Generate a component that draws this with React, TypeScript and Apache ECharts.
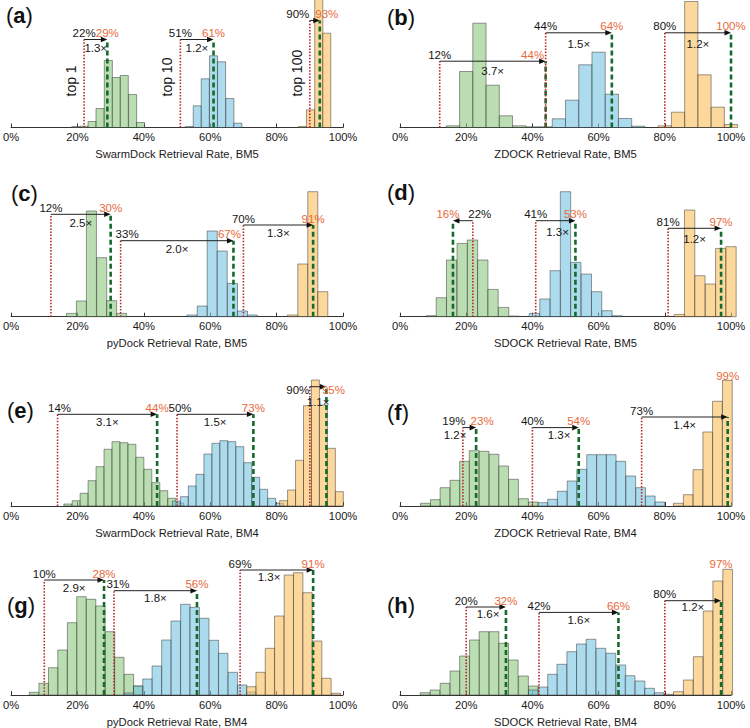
import React, { useEffect, useRef } from 'react';
import * as echarts from 'echarts';

const FONT = '"Liberation Sans", Arial, Helvetica, sans-serif';

const PANEL_LETTERS = ['a', 'b', 'c', 'd', 'e', 'f', 'g', 'h'];
const AXIS_TITLES = [
  'SwarmDock Retrieval Rate, BM5',
  'ZDOCK Retrieval Rate, BM5',
  'pyDock Retrieval Rate, BM5',
  'SDOCK Retrieval Rate, BM5',
  'SwarmDock Retrieval Rate, BM4',
  'ZDOCK Retrieval Rate, BM4',
  'pyDock Retrieval Rate, BM4',
  'SDOCK Retrieval Rate, BM4',
];
const TOP_LABELS = ['top 1', 'top 10', 'top 100'];
// histogram bin width (retrieval rate, %) per panel
const BIN_WIDTHS = [2.44, 4, 3.03, 3.125, 2.4, 2.95, 2.85, 2.95];

// histograms: [retrieval rate %, frequency]
const swarmdockBM5Top1 = [[19.5, 1], [22.0, 1.3], [24.4, 6], [26.8, 19], [29.3, 67], [31.7, 50], [34.1, 52], [36.6, 33], [39.0, 5]];
const swarmdockBM5Top10 = [[53.7, 1], [56.1, 21.7], [58.5, 48.7], [61.0, 71.7], [63.4, 65.7], [65.9, 29], [68.3, 4.3]];
const swarmdockBM5Top100 = [[87.8, 1], [90.2, 17.7], [92.7, 130], [95.1, 94.3]];

const zdockBM5Top1 = [[16, 1.7], [20, 56], [24, 104.3], [28, 42.3], [32, 11.7], [36, 1.7], [40, 0.7]];
const zdockBM5Top10 = [[44, 0.7], [48, 8.7], [52, 27.3], [56, 62.7], [60, 75.3], [64, 33.3], [68, 9], [72, 1.3]];
const zdockBM5Top100 = [[80, 1.7], [84, 15.3], [88, 126], [92, 52.7], [96, 20.3], [100, 3]];

const pydockBM5Top1 = [[18.2, 3.3], [21.2, 15.7], [24.2, 105.7], [27.3, 59], [30.3, 16], [33.3, 3.3]];
const pydockBM5Top10 = [[54.5, 1.7], [57.6, 10.7], [60.6, 85.7], [63.6, 65.7], [66.7, 33.3], [69.7, 5.7], [72.7, 1.7]];
const pydockBM5Top100 = [[84.8, 1.7], [87.9, 52.7], [90.9, 125], [93.9, 25]];

const sdockBM5Top1 = [[9.4, 1], [12.5, 19], [15.6, 56.7], [18.8, 73.3], [21.9, 76.7], [25.0, 56.7], [28.1, 27.3], [31.3, 9.3], [34.4, 0.7]];
const sdockBM5Top10 = [[40.6, 3.3], [43.8, 17.7], [46.9, 46], [50.0, 125], [53.1, 54.3], [56.3, 42.7], [59.4, 25], [62.5, 6], [65.6, 1]];
const sdockBM5Top100 = [[84.4, 2.3], [87.5, 106.7], [90.6, 41], [93.8, 32.7], [96.9, 68.3], [100, 70]];

const swarmdockBM4Top1 = [[17.1, 2], [19.6, 5.3], [22.0, 12.7], [24.4, 25.3], [26.8, 39.3], [29.2, 56.7], [31.6, 64.3], [34.0, 63.3], [36.4, 61.7], [38.8, 48.7], [41.2, 36.7], [43.6, 23.3], [46.0, 15.3], [48.4, 7.7], [50.8, 3]];
const swarmdockBM4Top10 = [[49.8, 5], [52.2, 9.3], [54.6, 20], [56.9, 31.7], [59.3, 52], [61.7, 62.7], [64.1, 65.3], [66.5, 64.3], [68.9, 59.3], [71.3, 43.3], [73.7, 28.7], [76.1, 16.7], [78.5, 7.7], [80.9, 2.7]];
const swarmdockBM4Top100 = [[82.1, 5.3], [84.5, 16], [86.9, 45.7], [89.3, 100.3], [91.7, 126], [94.1, 101], [96.5, 57.7], [98.9, 14.3]];

const zdockBM4Top1 = [[7.7, 2.7], [10.7, 6.3], [13.6, 18.3], [16.6, 25.7], [19.5, 44.7], [22.4, 55.3], [25.4, 54.7], [28.4, 51.7], [31.3, 40], [34.3, 26.7], [37.3, 7.3], [40.3, 4]];
const zdockBM4Top10 = [[43.2, 3.3], [46.1, 6.7], [49.0, 14.7], [52.0, 25], [54.9, 36.7], [57.9, 51.3], [60.9, 51.3], [63.8, 51.3], [66.7, 44.7], [69.7, 30], [72.7, 18.3], [75.6, 10], [78.5, 4]];
const zdockBM4Top100 = [[84.1, 2.7], [87.1, 11.3], [90.0, 36.3], [93.0, 74], [95.9, 104.7], [98.9, 125.7]];

const pydockBM4Top1 = [[6.9, 2.7], [9.8, 11.7], [12.7, 27.3], [15.5, 45], [18.4, 72.3], [21.2, 98.3], [24.1, 95.7], [26.9, 89], [29.8, 63.3], [32.6, 37.7], [35.5, 20.7], [38.3, 9]];
const pydockBM4Top10 = [[35.5, 2], [38.3, 9], [41.1, 16], [43.9, 29], [46.8, 55], [49.6, 74], [52.5, 90.7], [55.3, 87.7], [58.2, 76.7], [61.1, 54.7], [63.9, 41.7], [66.8, 22.7], [69.6, 10], [72.4, 3]];
const pydockBM4Top100 = [[72.4, 8.3], [75.2, 22.7], [78.0, 46.7], [80.8, 79], [83.7, 120], [86.5, 122.3], [89.3, 102.3], [92.2, 54], [95.0, 16.7], [97.9, 1.7]];

const sdockBM4Top1 = [[7.6, 2.3], [10.6, 5], [13.6, 11.7], [16.6, 24], [19.5, 39], [22.5, 55], [25.4, 63.3], [28.4, 63.3], [31.3, 51.7], [34.2, 35], [37.3, 19], [40.3, 9]];
const sdockBM4Top10 = [[40.3, 5], [43.2, 8], [46.1, 20.7], [48.9, 30.7], [51.9, 43.3], [54.8, 51], [57.7, 55.7], [60.7, 46.7], [63.7, 41.7], [66.7, 30], [69.5, 19.3], [72.5, 14], [75.4, 6.7], [78.3, 2.3]];
const sdockBM4Top100 = [[81.2, 0.7], [84.1, 3.3], [87.1, 15], [90.1, 38.3], [93.1, 84], [96.0, 114], [99.0, 125.7]];

// annotated shifts: [baseline %, improved %, fold change]
const swarmdockBM5Arrows = [[22, 29, '1.3×'], [51, 61, '1.2×'], [90, 93, '']];
const zdockBM5Arrows = [[12, 44, '3.7×'], [44, 64, '1.5×'], [80, 100, '1.2×']];
const pydockBM5Arrows = [[12, 30, '2.5×'], [33, 67, '2.0×'], [70, 91, '1.3×']];
const sdockBM5Arrows = [[22, 16, ''], [41, 53, '1.3×'], [81, 97, '1.2×']];
const swarmdockBM4Arrows = [[14, 44, '3.1×'], [50, 73, '1.5×'], [90, 95, '1.1×']];
const zdockBM4Arrows = [[19, 23, '1.2×'], [40, 54, '1.3×'], [73, 99, '1.4×']];
const pydockBM4Arrows = [[10, 28, '2.9×'], [31, 56, '1.8×'], [69, 91, '1.3×']];
const sdockBM4Arrows = [[20, 32, '1.6×'], [42, 66, '1.6×'], [80, 97, '1.2×']];

const HISTS = [
  [swarmdockBM5Top1, swarmdockBM5Top10, swarmdockBM5Top100],
  [zdockBM5Top1, zdockBM5Top10, zdockBM5Top100],
  [pydockBM5Top1, pydockBM5Top10, pydockBM5Top100],
  [sdockBM5Top1, sdockBM5Top10, sdockBM5Top100],
  [swarmdockBM4Top1, swarmdockBM4Top10, swarmdockBM4Top100],
  [zdockBM4Top1, zdockBM4Top10, zdockBM4Top100],
  [pydockBM4Top1, pydockBM4Top10, pydockBM4Top100],
  [sdockBM4Top1, sdockBM4Top10, sdockBM4Top100],
];
const ARROWS: any[] = [
  swarmdockBM5Arrows, zdockBM5Arrows, pydockBM5Arrows, sdockBM5Arrows,
  swarmdockBM4Arrows, zdockBM4Arrows, pydockBM4Arrows, sdockBM4Arrows,
];

// ---- layout (not data) ----
const AXIS_Y = [127.5, 316.7, 506, 695];
const PLOT_H = 127;
// arrow height (in y units) and label offsets in px
const ARROW_LAYOUT: any[] = [
  [{ h: 88 }, { h: 88 }, { h: 107, fdx: -12, tdx: 7 }],
  [{ h: 66.3, tdx: -13, rdy: 9.3 }, { h: 94.7, rdy: 11 }, { h: 94.7, rdy: 11 }],
  [{ h: 102.4, rdy: 9 }, { h: 76, fdx: 6.5, tdx: -4, rdy: 8.3 }, { h: 91.7, rdy: 8.3 }],
  [{ h: 96, fdx: 7, tdx: -5 }, { h: 96, rdx: 2, rdy: 11.6 }, { h: 88.4, rdy: 11 }],
  [{ h: 91.7, fdx: 2, rdy: 7.4 }, { h: 91.7, fdx: 3, rdy: 7.4 }, { h: 119.3, fdx: -12, tdx: 7, ldy: 9.5, rdy: 15 }],
  [{ h: 78.4, fdx: -9, tdx: 6, rdx: -14.5, rdy: 7.7 }, { h: 78.4, rdx: 3.5, rdy: 7.7 }, { h: 89, tdy: -35, rdy: 7.7 }],
  [{ h: 115, rdy: 7.7 }, { h: 104.3, fdx: 4, rdy: 7 }, { h: 125, rdx: -7.6, rdy: 7.3 }],
  [{ h: 88, rdx: 2, rdy: 6.7 }, { h: 82.6, rdy: 7.7 }, { h: 94.3, tdy: -30, rdy: 6.7 }],
];
const LABEL_POS = [[6, 15], [387, 17], [11, 193], [387, 192], [7, 410], [387, 412], [7, 605], [387, 605]];

const FILLS = ['rgba(140,200,125,0.6)', 'rgba(115,195,225,0.6)', 'rgba(250,190,90,0.6)'];
const BAR_STROKE = 'rgba(55,55,55,0.5)';
const RED = '#b8262a';
const DGREEN = '#156b2c';
const ORANGE = '#e8693a';
const INK = '#151515';

function barRenderer(w: number, fill: string) {
  return (params: any, api: any) => {
    const x = api.value(0);
    const v = api.value(1);
    const a = api.coord([x - w / 2, 0]);
    const b = api.coord([x + w / 2, v]);
    return {
      type: 'rect',
      shape: { x: a[0], y: b[1], width: b[0] - a[0], height: a[1] - b[1] },
      style: { fill, stroke: BAR_STROKE, lineWidth: 1 },
    };
  };
}

function txt(x: number, y: number, text: string, fill: string, extra: any = {}) {
  return {
    type: 'text',
    x,
    y,
    ...extra,
    style: {
      text,
      fill,
      fontSize: extra.fontSize || 11.5,
      fontFamily: FONT,
      align: extra.align || 'center',
      verticalAlign: 'middle',
    },
  };
}

function annotRenderer(i: number) {
  return (params: any, api: any) => {
    const k = params.dataIndex;
    const [from, to, ratio] = ARROWS[i][k];
    const L = { fdx: 0, tdx: 0, tdy: 0, rdx: 0, rdy: 8.5, ldy: 0, ...ARROW_LAYOUT[i][k] };
    const f0 = api.coord([from, 0]);
    const f1 = api.coord([from, L.h]);
    const t0 = api.coord([to, 0]);
    const y = f1[1];
    const xf = f0[0];
    const xt = t0[0];
    const dir = xt >= xf ? 1 : -1;
    const children: any[] = [
      { type: 'line', shape: { x1: xf, y1: f0[1], x2: xf, y2: y }, style: { stroke: RED, lineWidth: 1.6, lineDash: [1.5, 1.6] } },
      { type: 'line', shape: { x1: xt, y1: t0[1], x2: xt, y2: y }, style: { stroke: DGREEN, lineWidth: 2.6, lineDash: [5, 3] } },
      { type: 'line', shape: { x1: xf, y1: y, x2: xt - dir * 5, y2: y }, style: { stroke: '#222', lineWidth: 1 } },
      { type: 'polygon', shape: { points: [[xt, y], [xt - dir * 6.5, y - 2.8], [xt - dir * 6.5, y + 2.8]] }, style: { fill: '#111' } },
      txt(xf + L.fdx, y - 6.5 + L.ldy, from + '%', INK),
      txt(xt + L.tdx, y - 6.5 + L.ldy + L.tdy, to + '%', ORANGE),
    ];
    if (ratio) children.push(txt((xf + xt) / 2 + L.rdx, y + L.rdy, ratio, INK));
    if (i === 0) {
      children.push(txt(xf - 13, f0[1] - 31, TOP_LABELS[k], INK, { rotation: Math.PI / 2, align: 'left', fontSize: 14 }));
    }
    return { type: 'group', children };
  };
}

function buildOption() {
  const grid: any[] = [];
  const xAxis: any[] = [];
  const yAxis: any[] = [];
  const series: any[] = [];
  PANEL_LETTERS.forEach((_, i) => {
    const col = i % 2;
    const row = Math.floor(i / 2);
    grid.push({ left: col ? 400 : 10, width: col ? 331 : 333, top: AXIS_Y[row] - PLOT_H, height: PLOT_H });
    xAxis.push({
      gridIndex: i,
      type: 'value',
      min: 0,
      max: 100,
      interval: 20,
      axisLine: { lineStyle: { color: '#333', width: 1 } },
      axisTick: { inside: true, length: 4, lineStyle: { color: '#333' } },
      splitLine: { show: false },
      axisLabel: { formatter: '{value}%', fontSize: 11.2, color: '#1a1a1a', fontFamily: FONT, margin: 4, showMinLabel: true, showMaxLabel: true },
      name: AXIS_TITLES[i],
      nameLocation: 'middle',
      nameGap: 21,
      nameTextStyle: { fontSize: 11.2, color: '#1a1a1a', fontFamily: FONT },
    });
    yAxis.push({ gridIndex: i, type: 'value', min: 0, max: PLOT_H, show: false });
    HISTS[i].forEach((d, c) => {
      series.push({
        type: 'custom',
        xAxisIndex: i,
        yAxisIndex: i,
        data: d,
        silent: true,
        z: 2,
        renderItem: barRenderer(BIN_WIDTHS[i], FILLS[c]),
      });
    });
    series.push({
      type: 'custom',
      xAxisIndex: i,
      yAxisIndex: i,
      data: ARROWS[i].map((r: any) => [r[0], r[1]]),
      silent: true,
      z: 10,
      renderItem: annotRenderer(i),
    });
  });
  const graphic = PANEL_LETTERS.map((l, i) => ({
    type: 'text',
    x: LABEL_POS[i][0],
    y: LABEL_POS[i][1],
    style: {
      text: `{p|(}{b|${l}}{p|)}`,
      align: 'left',
      verticalAlign: 'middle',
      rich: {
        p: { fontSize: 22, fontFamily: FONT, fill: '#111' },
        b: { fontSize: 22, fontFamily: FONT, fontWeight: 'bold', fill: '#111' },
      },
    },
  }));
  return {
    animation: false,
    backgroundColor: '#ffffff',
    textStyle: { fontFamily: FONT },
    grid,
    xAxis,
    yAxis,
    series,
    graphic,
  };
}

export default function App() {
  const ref = useRef<HTMLDivElement>(null);
  useEffect(() => {
    if (!ref.current) return;
    const chart = echarts.init(ref.current, undefined, { renderer: 'svg' });
    chart.setOption(buildOption() as any);
    return () => chart.dispose();
  }, []);
  return <div ref={ref} style={{ position: 'absolute', left: 0, top: 0, width: 750, height: 728 }} />;
}
